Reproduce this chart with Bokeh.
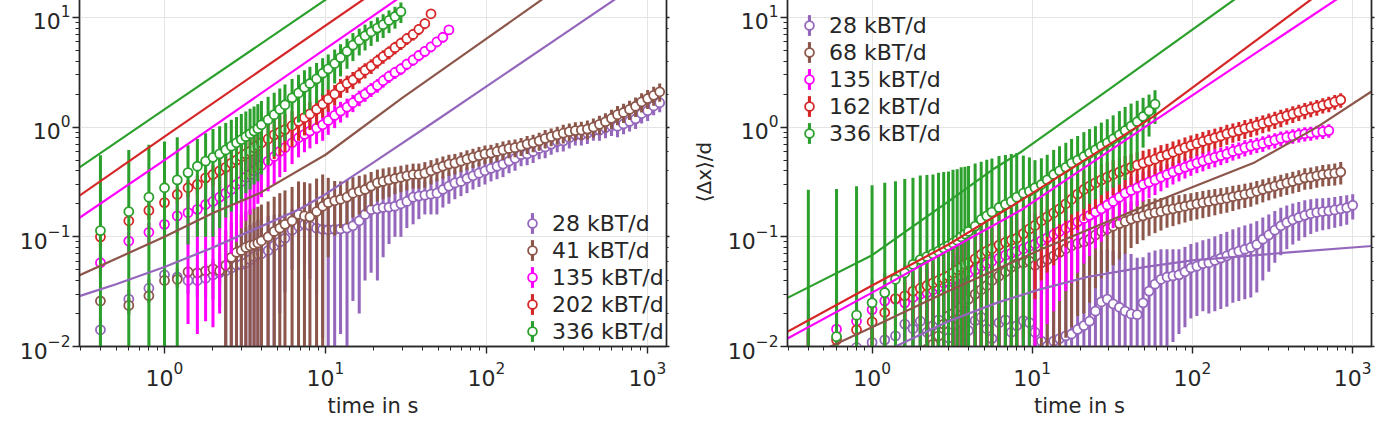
from bokeh.plotting import figure
from bokeh.layouts import row
from bokeh.models import LogAxis, Legend, LegendItem, Range1d, CustomJSTickFormatter
from bokeh.embed import file_html
from bokeh.resources import INLINE

# ---------------- data ----------------
# common time grid in s
T = [0.4, 0.6, 0.8, 1.0, 1.2, 1.4, 1.6, 1.8, 2.0, 2.2,
     2.4, 2.6, 2.8, 3.0, 3.2, 3.4, 3.6, 3.8, 4.0, 4.4,
     4.8, 5.2, 5.6, 6.2, 6.8, 7.4, 8.0, 8.8, 9.6, 10.4,
     11.4, 12.4, 13.6, 14.8, 16.2, 17.6, 19.2, 21.0, 22.8, 24.8,
     27.0, 29.4, 32.0, 35.0, 38.0, 41.4, 45.2, 49.2, 53.6, 58.4,
     63.6, 69.4, 75.6, 82.4, 89.8, 97.8, 106.6, 116.2, 126.6, 138.0,
     150.4, 164.0, 178.8, 194.8, 212.4, 231.4, 252.2, 275.0, 299.8, 326.8,
     356.2, 388.2, 423.2, 461.2, 502.8, 548.0, 597.4, 651.2, 709.8, 773.6,
     843.2, 919.0, 1001.8, 1092.0, 1190.0]

# ----- left panel -----
L_LABELS = ["28 kBT/d", "41 kBT/d", "135 kBT/d", "202 kBT/d", "336 kBT/d"]

L28_Y = [0.0142, 0.027, 0.034, 0.045, 0.043, 0.040, 0.040, 0.042, 0.045, 0.047,
         0.049, 0.052, 0.055, 0.056, 0.058, 0.062, 0.066, 0.069, 0.070, 0.075,
         0.083, 0.090, 0.097, 0.115, 0.125, 0.130, 0.126, 0.120, 0.117, 0.116,
         0.117, 0.118, 0.120, 0.126, 0.140, 0.160, 0.177, 0.180, 0.185, 0.186,
         0.190, 0.200, 0.210, 0.230, 0.235, 0.240, 0.245, 0.250, 0.270, 0.290,
         0.310, 0.320, 0.340, 0.360, 0.380, 0.400, 0.420, 0.440, 0.460, 0.490,
         0.520, 0.560, 0.570, 0.600, 0.640, 0.660, 0.700, 0.740, 0.750, 0.800,
         0.850, 0.850, 0.880, 0.930, 0.940, 0.990, 1.030, 1.020, 1.070, 1.130,
         1.190, 1.330, 1.410, 1.560, 1.670]
L28_E = [0.004, 0.006, 0.007, 0.008, 0.009, 0.010, 0.012, 0.014, 0.018, 0.024,
         0.045, 0.050, 0.055, 0.060, 0.063, 0.067, 0.070, 0.074, 0.075, 0.080,
         0.075, 0.070, 0.066, 0.065, 0.070, 0.075, 0.085, 0.090, 0.105, 0.110,
         0.112, 0.105, 0.110, 0.100, 0.120, 0.120, 0.130, 0.140, 0.120, 0.100,
         0.090, 0.100, 0.090, 0.100, 0.090, 0.080, 0.085, 0.090, 0.085, 0.090,
         0.090, 0.085, 0.090, 0.090, 0.095, 0.100, 0.100, 0.105, 0.110, 0.110,
         0.120, 0.120, 0.120, 0.130, 0.130, 0.140, 0.140, 0.150, 0.150, 0.160,
         0.170, 0.170, 0.180, 0.180, 0.190, 0.200, 0.200, 0.210, 0.210, 0.220,
         0.230, 0.250, 0.270, 0.280, 0.300]

L41_Y = [0.026, 0.0237, 0.029, 0.040, 0.041, 0.048, 0.047, 0.049, 0.051, 0.049,
         0.055, 0.065, 0.072, 0.075, 0.080, 0.083, 0.085, 0.088, 0.092, 0.100,
         0.112, 0.120, 0.130, 0.140, 0.160, 0.155, 0.152, 0.170, 0.190, 0.205,
         0.213, 0.220, 0.230, 0.250, 0.260, 0.270, 0.290, 0.310, 0.320, 0.330,
         0.340, 0.350, 0.360, 0.370, 0.370, 0.380, 0.400, 0.420, 0.440, 0.460,
         0.470, 0.490, 0.510, 0.530, 0.550, 0.570, 0.580, 0.600, 0.620, 0.640,
         0.650, 0.670, 0.700, 0.720, 0.750, 0.790, 0.820, 0.850, 0.880, 0.910,
         0.930, 0.940, 0.960, 1.000, 1.060, 1.120, 1.200, 1.300, 1.360, 1.450,
         1.550, 1.700, 1.820, 1.950, 2.100]
L41_E = [0.003, 0.004, 0.004, 0.005, 0.005, 0.006, 0.006, 0.007, 0.008, 0.012,
         0.060, 0.070, 0.080, 0.085, 0.090, 0.095, 0.100, 0.100, 0.105, 0.110,
         0.120, 0.130, 0.135, 0.145, 0.160, 0.160, 0.155, 0.170, 0.180, 0.140,
         0.110, 0.100, 0.100, 0.100, 0.100, 0.100, 0.100, 0.100, 0.100, 0.100,
         0.095, 0.095, 0.095, 0.095, 0.095, 0.100, 0.100, 0.100, 0.100, 0.100,
         0.100, 0.100, 0.105, 0.105, 0.110, 0.110, 0.110, 0.115, 0.120, 0.120,
         0.120, 0.125, 0.130, 0.130, 0.140, 0.150, 0.150, 0.160, 0.170, 0.170,
         0.180, 0.180, 0.190, 0.200, 0.210, 0.220, 0.240, 0.260, 0.270, 0.290,
         0.310, 0.340, 0.360, 0.380, 0.400]

L135_Y = [0.058, 0.0915, 0.110, 0.130, 0.155, 0.166, 0.178, 0.197, 0.210, 0.230,
          0.250, 0.270, 0.300, 0.320, 0.350, 0.370, 0.400, 0.420, 0.450, 0.490,
          0.540, 0.600, 0.650, 0.720, 0.800, 0.860, 0.920, 0.980, 1.050, 1.150,
          1.280, 1.400, 1.520, 1.670, 1.850, 2.000, 2.200, 2.400, 2.650, 2.900,
          3.150, 3.400, 3.750, 4.100, 4.500, 4.900, 5.400, 6.000, 6.600, 7.700]
L135_E = [0.015, 0.020, 0.025, 0.030, 0.050, 0.150, 0.165, 0.180, 0.195, 0.210,
          0.200, 0.200, 0.210, 0.200, 0.210, 0.210, 0.220, 0.220, 0.220, 0.230,
          0.240, 0.250, 0.260, 0.260, 0.270, 0.270, 0.280, 0.280, 0.300, 0.300,
          0.300, 0.300, 0.300, 0.300, 0.300, 0.300, 0.320, 0.340, 0.360, 0.380,
          0.400, 0.420, 0.450, 0.480, 0.520, 0.560, 0.600, 0.650, 0.700, 0.750]

L202_Y = [0.100, 0.140, 0.174, 0.205, 0.243, 0.280, 0.300, 0.345, 0.370, 0.400,
          0.430, 0.470, 0.500, 0.540, 0.570, 0.600, 0.650, 0.680, 0.720, 0.780,
          0.850, 0.900, 0.950, 1.030, 1.130, 1.220, 1.320, 1.450, 1.620, 1.800,
          2.000, 2.300, 2.500, 2.700, 3.000, 3.300, 3.600, 4.000, 4.400, 4.800,
          5.300, 5.800, 6.400, 7.000, 7.800, 8.800, 10.800]
L202_E = [0.020, 0.025, 0.030, 0.035, 0.040, 0.050, 0.060, 0.070, 0.080, 0.150,
          0.170, 0.190, 0.200, 0.220, 0.240, 0.250, 0.270, 0.280, 0.300, 0.320,
          0.340, 0.350, 0.360, 0.370, 0.380, 0.380, 0.380, 0.400, 0.400, 0.420,
          0.420, 0.450, 0.450, 0.480, 0.500, 0.520, 0.550, 0.580, 0.620, 0.660,
          0.700, 0.750, 0.800, 0.850, 0.900, 1.000, 1.100]

L336_Y = [0.114, 0.170, 0.230, 0.280, 0.330, 0.385, 0.440, 0.490, 0.530, 0.570,
          0.620, 0.670, 0.720, 0.770, 0.820, 0.870, 0.920, 0.970, 1.050, 1.170,
          1.300, 1.450, 1.600, 1.850, 2.050, 2.300, 2.500, 2.750, 3.100, 3.400,
          3.800, 4.300, 4.900, 5.600, 6.200, 6.800, 7.400, 8.000, 8.600, 9.400,
          10.200, 11.300]
L336_E = [0.44, 0.45, 0.46, 0.46, 0.48, 0.30, 0.34, 0.39, 0.43, 0.45,
          0.47, 0.50, 0.52, 0.55, 0.57, 0.60, 0.62, 0.65, 0.68, 0.72,
          0.76, 0.80, 0.85, 0.90, 0.95, 1.00, 1.05, 1.10, 1.15, 1.20,
          1.30, 1.40, 1.50, 1.60, 1.70, 1.80, 1.90, 2.00, 2.10, 2.20,
          2.30, 2.40]

# fitted model curves
L28_FIT_T = [0.29, 0.5, 1, 2, 4, 7, 10, 20, 50, 100, 300, 700]
L28_FIT_Y = [0.0285, 0.037, 0.053, 0.080, 0.125, 0.180, 0.245, 0.48, 1.18, 2.35, 7.0, 16.3]
L41_FIT_T = [0.29, 1, 2, 3.9, 10, 30, 100, 300]
L41_FIT_Y = [0.044, 0.100, 0.165, 0.250, 0.56, 1.85, 6.4, 20.0]
L135_FIT_T = [0.29, 1, 30]
L135_FIT_Y = [0.146, 0.50, 15.8]
L202_FIT_T = [0.29, 1, 20]
L202_FIT_Y = [0.232, 0.82, 17.0]
L336_FIT_T = [0.29, 1, 12]
L336_FIT_Y = [0.42, 1.45, 17.4]

# ----- right panel -----
R_LABELS = ["28 kBT/d", "68 kBT/d", "135 kBT/d", "162 kBT/d", "336 kBT/d"]

R28_Y = [0.0070, 0.0080, 0.0098, 0.0109, 0.0115, 0.0125, 0.0160, 0.0145, 0.0170, 0.0135,
         0.0155, 0.0175, 0.0140, 0.0120, 0.0158, 0.0180, 0.0165, 0.0128, 0.0140, 0.0172,
         0.0185, 0.0145, 0.0118, 0.0165, 0.0175, 0.0135, 0.0155, 0.0172, 0.0165, 0.0135,
         0.0112, 0.0101, 0.0112, 0.0118, 0.0125, 0.0130, 0.0143, 0.0155, 0.0170, 0.0210,
         0.0255, 0.0270, 0.0245, 0.0228, 0.0210, 0.0198, 0.0195, 0.0250, 0.0320, 0.0370,
         0.0410, 0.0430, 0.0440, 0.0450, 0.0480, 0.0520, 0.0540, 0.0570, 0.0580, 0.0610,
         0.0640, 0.0670, 0.0710, 0.0740, 0.0770, 0.0800, 0.0850, 0.0950, 0.1040, 0.1150,
         0.1260, 0.1350, 0.1430, 0.1500, 0.1570, 0.1630, 0.1670, 0.1700, 0.1720, 0.1760,
         0.1800, 0.1840, 0.1940]
R28_E = [0.020, 0.025, 0.030, 0.030, 0.035, 0.035, 0.040, 0.040, 0.040, 0.040,
         0.040, 0.045, 0.045, 0.045, 0.045, 0.050, 0.050, 0.050, 0.050, 0.050,
         0.050, 0.050, 0.050, 0.050, 0.050, 0.050, 0.050, 0.050, 0.055, 0.060,
         0.060, 0.060, 0.060, 0.060, 0.060, 0.060, 0.060, 0.055, 0.055, 0.050,
         0.050, 0.050, 0.050, 0.050, 0.050, 0.050, 0.045, 0.040, 0.040, 0.038,
         0.036, 0.034, 0.033, 0.032, 0.033, 0.034, 0.035, 0.036, 0.038, 0.040,
         0.042, 0.044, 0.046, 0.048, 0.050, 0.052, 0.054, 0.055, 0.056, 0.057,
         0.058, 0.058, 0.058, 0.058, 0.058, 0.057, 0.056, 0.055, 0.055, 0.055,
         0.055, 0.055, 0.050]

R68_Y = [0.0040, 0.0050, 0.0060, 0.0065, 0.0070, 0.0075, 0.0080, 0.0085, 0.0090, 0.0095,
         0.0105, 0.0125, 0.0160, 0.0190, 0.0200, 0.0210, 0.0230, 0.0250, 0.0270, 0.0300,
         0.0330, 0.0360, 0.0400, 0.0440, 0.0480, 0.0530, 0.0570, 0.0580, 0.0600, 0.0550,
         0.0580, 0.0620, 0.0670, 0.0720, 0.0780, 0.0830, 0.0870, 0.0900, 0.0950, 0.1040,
         0.1120, 0.1180, 0.1250, 0.1320, 0.1380, 0.1450, 0.1500, 0.1550, 0.1620, 0.1660,
         0.1700, 0.1760, 0.1800, 0.1850, 0.1900, 0.1950, 0.2000, 0.2050, 0.2100, 0.2150,
         0.2200, 0.2250, 0.2320, 0.2380, 0.2440, 0.2500, 0.2600, 0.2700, 0.2800, 0.2900,
         0.3000, 0.3100, 0.3200, 0.3300, 0.3450, 0.3500, 0.3600, 0.3700, 0.3750, 0.3800,
         0.3900]
R68_E = [0.010, 0.010, 0.012, 0.012, 0.013, 0.013, 0.014, 0.014, 0.015, 0.015,
         0.016, 0.018, 0.020, 0.022, 0.024, 0.026, 0.028, 0.030, 0.032, 0.034,
         0.036, 0.040, 0.044, 0.048, 0.052, 0.056, 0.060, 0.062, 0.064, 0.062,
         0.062, 0.062, 0.064, 0.066, 0.066, 0.068, 0.068, 0.070, 0.070, 0.070,
         0.070, 0.070, 0.070, 0.070, 0.068, 0.066, 0.064, 0.062, 0.060, 0.058,
         0.056, 0.055, 0.055, 0.055, 0.055, 0.055, 0.056, 0.057, 0.058, 0.058,
         0.058, 0.059, 0.060, 0.060, 0.061, 0.062, 0.063, 0.064, 0.065, 0.066,
         0.068, 0.070, 0.072, 0.074, 0.076, 0.078, 0.080, 0.082, 0.084, 0.086,
         0.090]

R135_Y = [0.0090, 0.0144, 0.0170, 0.0217, 0.0260, 0.0270, 0.0250, 0.0280, 0.0300, 0.0310,
          0.0330, 0.0350, 0.0380, 0.0390, 0.0410, 0.0420, 0.0440, 0.0450, 0.0470, 0.0500,
          0.0540, 0.0570, 0.0600, 0.0640, 0.0680, 0.0710, 0.0740, 0.0780, 0.0820, 0.0860,
          0.0920, 0.0980, 0.1050, 0.1120, 0.1200, 0.1280, 0.1370, 0.1470, 0.1570, 0.1680,
          0.1800, 0.1950, 0.2100, 0.2300, 0.2500, 0.2650, 0.2800, 0.3000, 0.3150, 0.3300,
          0.3500, 0.3700, 0.3900, 0.4100, 0.4300, 0.4500, 0.4700, 0.4900, 0.5100, 0.5300,
          0.5500, 0.5700, 0.6000, 0.6200, 0.6500, 0.6700, 0.6900, 0.7100, 0.7400, 0.7600,
          0.7900, 0.8100, 0.8300, 0.8500, 0.8700, 0.8800, 0.9000, 0.9100, 0.9300]
R135_E = [0.005, 0.006, 0.007, 0.008, 0.010, 0.012, 0.014, 0.016, 0.018, 0.020,
          0.025, 0.030, 0.035, 0.040, 0.042, 0.044, 0.046, 0.048, 0.050, 0.052,
          0.055, 0.058, 0.060, 0.064, 0.068, 0.070, 0.072, 0.074, 0.076, 0.078,
          0.080, 0.082, 0.084, 0.086, 0.088, 0.090, 0.090, 0.090, 0.090, 0.090,
          0.090, 0.090, 0.090, 0.090, 0.090, 0.090, 0.090, 0.090, 0.090, 0.090,
          0.090, 0.090, 0.090, 0.090, 0.090, 0.090, 0.090, 0.095, 0.095, 0.100,
          0.100, 0.100, 0.105, 0.105, 0.110, 0.110, 0.110, 0.115, 0.115, 0.120,
          0.120, 0.120, 0.125, 0.125, 0.130, 0.130, 0.130, 0.130, 0.130]

R162_Y = [0.0085, 0.0115, 0.0142, 0.0168, 0.0204, 0.0273, 0.0290, 0.0320, 0.0340, 0.0360,
          0.0380, 0.0400, 0.0420, 0.0440, 0.0470, 0.0500, 0.0530, 0.0560, 0.0580, 0.0630,
          0.0690, 0.0740, 0.0780, 0.0840, 0.0890, 0.0930, 0.0970, 0.1070, 0.1180, 0.1270,
          0.1400, 0.1520, 0.1650, 0.1800, 0.2000, 0.2200, 0.2450, 0.2700, 0.2900, 0.3100,
          0.3300, 0.3500, 0.3700, 0.3900, 0.4100, 0.4300, 0.4500, 0.4700, 0.4900, 0.5100,
          0.5400, 0.5600, 0.5900, 0.6200, 0.6500, 0.6800, 0.7100, 0.7400, 0.7700, 0.8000,
          0.8300, 0.8700, 0.9000, 0.9300, 0.9700, 1.0000, 1.0400, 1.0800, 1.1200, 1.1700,
          1.2200, 1.2700, 1.3200, 1.3700, 1.4200, 1.4700, 1.5200, 1.5800, 1.6300, 1.7000,
          1.7700]
R162_E = [0.005, 0.006, 0.007, 0.008, 0.010, 0.012, 0.014, 0.016, 0.020, 0.025,
          0.030, 0.035, 0.040, 0.044, 0.047, 0.050, 0.053, 0.056, 0.058, 0.063,
          0.069, 0.074, 0.078, 0.084, 0.089, 0.090, 0.092, 0.095, 0.100, 0.100,
          0.100, 0.105, 0.110, 0.115, 0.120, 0.125, 0.130, 0.130, 0.130, 0.130,
          0.130, 0.130, 0.130, 0.135, 0.135, 0.135, 0.140, 0.140, 0.140, 0.140,
          0.145, 0.145, 0.150, 0.150, 0.155, 0.160, 0.160, 0.165, 0.170, 0.170,
          0.175, 0.180, 0.180, 0.185, 0.190, 0.190, 0.200, 0.200, 0.210, 0.210,
          0.220, 0.220, 0.230, 0.230, 0.240, 0.240, 0.250, 0.250, 0.260, 0.260,
          0.270]

R336_Y = [0.0080, 0.0123, 0.0193, 0.0250, 0.0310, 0.0410, 0.0470, 0.0560, 0.0620, 0.0660,
          0.0700, 0.0740, 0.0790, 0.0830, 0.0880, 0.0930, 0.1000, 0.1060, 0.1120, 0.1250,
          0.1440, 0.1550, 0.1680, 0.1850, 0.1980, 0.2100, 0.2300, 0.2500, 0.2600, 0.2800,
          0.3000, 0.3300, 0.3700, 0.4000, 0.4300, 0.4700, 0.5000, 0.5400, 0.5800, 0.6200,
          0.6700, 0.7200, 0.7800, 0.8500, 0.9300, 1.0200, 1.1200, 1.2500, 1.4000, 1.6200]
R336_E = [0.26, 0.26, 0.27, 0.27, 0.28, 0.28, 0.29, 0.29, 0.30, 0.30,
          0.30, 0.31, 0.31, 0.31, 0.32, 0.32, 0.33, 0.33, 0.33, 0.34,
          0.34, 0.35, 0.35, 0.36, 0.36, 0.36, 0.35, 0.30, 0.27, 0.22,
          0.22, 0.23, 0.25, 0.27, 0.29, 0.31, 0.33, 0.36, 0.38, 0.40,
          0.43, 0.46, 0.50, 0.55, 0.60, 0.62, 0.62, 0.60, 0.58, 0.55]

R28_FIT_T = [1, 1.4, 3, 6, 11, 22, 50, 100, 400, 1400]
R28_FIT_Y = [0.0085, 0.010, 0.017, 0.025, 0.033, 0.043, 0.053, 0.061, 0.072, 0.083]
R68_FIT_T = [0.4, 0.55, 1, 3, 11.4, 50, 240, 600, 1400]
R68_FIT_Y = [0.0085, 0.010, 0.015, 0.032, 0.077, 0.19, 0.47, 1.0, 2.25]
R135_FIT_T = [0.29, 1, 8.6, 150, 900]
R135_FIT_Y = [0.0116, 0.031, 0.177, 2.9, 16.5]
R162_FIT_T = [0.29, 1, 3, 8.6, 57.6, 600]
R162_FIT_Y = [0.0134, 0.036, 0.085, 0.217, 1.26, 16.0]
R336_FIT_T = [0.29, 1, 3, 5.8, 8.6, 30, 200]
R336_FIT_Y = [0.0273, 0.068, 0.21, 0.42, 0.60, 2.2, 16.0]

COLORS = ["#9467bd", "#8c564b", "#ff00ff", "#d62728", "#2ca02c"]

# ---------------- styling ----------------
FONT = "DejaVu Sans"
INK = "#262626"
X_RANGE = (0.2965, 1312.0)
Y_RANGE = (0.01, 15.2)
FRAME_H = 349
BAR_REL = 0.0433  # error-bar width relative to t (gives ~3 px on the log axis)


def style_axis(ax, labels=True):
    ax.axis_line_color = INK
    ax.axis_line_width = 1.4
    ax.major_tick_line_color = INK
    ax.major_tick_line_width = 1.4
    ax.minor_tick_line_color = INK
    ax.minor_tick_line_width = 1.0
    ax.major_tick_in = 0
    ax.minor_tick_in = 0
    ax.major_label_text_font = FONT
    ax.major_label_text_color = INK
    if labels:
        ax.major_tick_out = 7
        ax.minor_tick_out = 4
        ax.major_label_text_font_size = "22px"
    else:
        ax.formatter = CustomJSTickFormatter(code="return ' '")
        ax.major_label_text_font_size = "1px"
        ax.major_label_standoff = 0
        ax.major_tick_out = 3
        ax.minor_tick_out = 2


def make_panel(ys, es, fits_t, fits_y, labels, ylabel, min_left, min_right,
               frame_w, legB_loc, legA_loc):
    p = figure(x_axis_type="log", y_axis_type="log",
               x_range=Range1d(*X_RANGE), y_range=Range1d(*Y_RANGE),
               frame_width=frame_w, frame_height=FRAME_H,
               min_border_left=min_left, min_border_right=min_right,
               min_border_top=0, min_border_bottom=66,
               output_backend="svg", toolbar_location=None, title=None)
    p.outline_line_color = INK
    p.outline_line_width = 1.4
    p.background_fill_color = "white"
    p.border_fill_color = "white"

    style_axis(p.xaxis[0])
    style_axis(p.yaxis[0])
    p.xaxis[0].major_label_standoff = 8
    p.xaxis[0].axis_label = "time in s"
    p.xaxis[0].axis_label_text_font = FONT
    p.xaxis[0].axis_label_text_font_size = "21px"
    p.xaxis[0].axis_label_text_font_style = "normal"
    p.xaxis[0].axis_label_text_color = INK
    p.xaxis[0].axis_label_standoff = 5
    p.yaxis[0].major_label_standoff = 2
    if ylabel:
        p.yaxis[0].axis_label = ylabel
        p.yaxis[0].axis_label_text_font = FONT
        p.yaxis[0].axis_label_text_font_size = "20px"
        p.yaxis[0].axis_label_text_font_style = "normal"
        p.yaxis[0].axis_label_text_color = INK
        p.yaxis[0].axis_label_standoff = 9

    rax = LogAxis()
    style_axis(rax, labels=False)
    p.add_layout(rax, "right")

    for g in (p.xgrid[0], p.ygrid[0]):
        g.grid_line_color = "#e4e4e4"
        g.grid_line_width = 1

    items_B = []
    items_A = []
    for y, e, col, lab in zip(ys, es, COLORS, labels):
        tt = T[:len(y)]
        lo = [max(a - b, 1e-5) for a, b in zip(y, e)]
        hi = [a + b for a, b in zip(y, e)]
        w = [BAR_REL * t for t in tt]
        bars = p.vbar(x=tt, width=w, bottom=lo, top=hi, fill_color=col, line_color=None)
        r = p.scatter(tt, y, marker="circle", size=9, fill_color="white",
                      line_color=col, line_width=1.8)
        items_B.append(LegendItem(label=lab, renderers=[r]))
        items_A.append(LegendItem(label=" ", renderers=[bars]))

    for ft, fy, col in zip(fits_t, fits_y, COLORS):
        p.line(ft, fy, line_color=col, line_width=2.2)

    common = dict(padding=0, margin=0, spacing=1, background_fill_alpha=0,
                  border_line_alpha=0, label_text_font=FONT, label_text_font_size="22px",
                  label_text_color=INK, glyph_height=26)
    legA = Legend(items=items_A, location=legA_loc, glyph_width=4, label_standoff=0, **common)
    legB = Legend(items=items_B, location=legB_loc, glyph_width=22, label_standoff=9, **common)
    p.add_layout(legA)
    p.add_layout(legB)
    return p


left = make_panel([L28_Y, L41_Y, L135_Y, L202_Y, L336_Y],
                  [L28_E, L41_E, L135_E, L202_E, L336_E],
                  [L28_FIT_T, L41_FIT_T, L135_FIT_T, L202_FIT_T, L336_FIT_T],
                  [L28_FIT_Y, L41_FIT_Y, L135_FIT_Y, L202_FIT_Y, L336_FIT_Y],
                  L_LABELS, None, 79, 14, 587, (442, 2), (451, 2))

right = make_panel([R28_Y, R68_Y, R135_Y, R162_Y, R336_Y],
                   [R28_E, R68_E, R135_E, R162_E, R336_E],
                   [R28_FIT_T, R68_FIT_T, R135_FIT_T, R162_FIT_T, R336_FIT_T],
                   [R28_FIT_Y, R68_FIT_Y, R135_FIT_Y, R162_FIT_Y, R336_FIT_Y],
                   R_LABELS, "\u27e8\u0394x\u27e9/d", 107, 0, 584, (11, 200), (20, 200))

layout = row(left, right, styles={"margin-top": "-3px"})
open("out.html", "w").write(file_html(layout, INLINE))
